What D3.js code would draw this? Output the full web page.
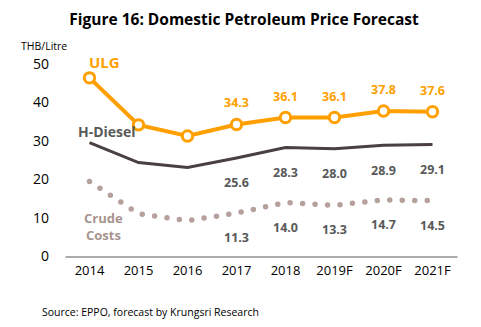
<!DOCTYPE html>
<html><head><meta charset="utf-8">
<script src="https://cdn.jsdelivr.net/npm/d3@7/dist/d3.min.js"></script>
<style>body{margin:0;background:#fff}svg{display:block}text{font-family:"Open Sans",sans-serif}</style>
</head><body>
<script>
const years = ["2014","2015","2016","2017","2018","2019F","2020F","2021F"];
const ulg = [46.4, 34.2, 31.3, 34.3, 36.1, 36.1, 37.8, 37.6];
const diesel = [29.6, 24.4, 23.1, 25.6, 28.3, 28.0, 28.9, 29.1];
const crude = [19.5, 11.1, 9.3, 11.3, 14.0, 13.3, 14.7, 14.5];
const yTicks = [0, 10, 20, 30, 40, 50];
const labelFrom = 3;

const W = 481, H = 327;
const svg = d3.select("body").append("svg").attr("width", W).attr("height", H);
const x = d3.scaleBand().domain(years).range([65, 457]);
const y = d3.scaleLinear().domain([0, 50]).range([256.5, 64]);
const cx = d => x(d) + x.bandwidth() / 2;

svg.append("text").attr("x", 244).attr("y", 25).attr("text-anchor", "middle")
  .attr("font-size", 15.5).attr("font-weight", "bold").attr("fill", "#000")
  .text("Figure 16: Domestic Petroleum Price Forecast");
svg.append("text").attr("x", 21).attr("y", 50).attr("font-size", 10.5).attr("fill", "#000").text("THB/Litre");

// y axis labels
const ya = svg.append("g").attr("transform", "translate(49,0)")
  .call(d3.axisLeft(y).tickValues(yTicks).tickSize(0).tickPadding(0));
ya.select(".domain").remove();
ya.selectAll("text").attr("font-size", 14).attr("fill", "#000").attr("font-family", "Open Sans, sans-serif");

// x axis
const xa = svg.append("g").attr("transform", "translate(0,256.5)")
  .call(d3.axisBottom(x).tickSize(0).tickPadding(9));
xa.select(".domain").attr("stroke", "#595959").attr("stroke-width", 1);
xa.selectAll("text").attr("font-size", 13).attr("fill", "#000").attr("font-family", "Open Sans, sans-serif");

const line = d3.line().x((d, i) => cx(years[i])).y(d => y(d));

// crude dotted
svg.append("path").datum(crude).attr("d", line).attr("fill", "none")
  .attr("stroke", "#B5A09C").attr("stroke-width", 5.5).attr("stroke-linecap", "round")
  .attr("stroke-dasharray", "0,12.5");
// diesel
svg.append("path").datum(diesel).attr("d", line).attr("fill", "none")
  .attr("stroke", "#4A3F41").attr("stroke-width", 3);
// ulg
svg.append("path").datum(ulg).attr("d", line).attr("fill", "none")
  .attr("stroke", "#FF9F00").attr("stroke-width", 4);
svg.selectAll("circle.ulg").data(ulg).join("circle").attr("class", "ulg")
  .attr("cx", (d, i) => cx(years[i])).attr("cy", d => y(d)).attr("r", 5.2)
  .attr("fill", "#fff").attr("stroke", "#FF9F00").attr("stroke-width", 3);

// data labels
const lab = (arr, dy, color) => svg.append("g").selectAll("text")
  .data(arr.map((v, i) => ({ v, i })).filter(d => d.i >= labelFrom)).join("text")
  .attr("x", d => cx(years[d.i])).attr("y", d => y(d.v) + dy)
  .attr("text-anchor", "middle").attr("font-size", 12.5).attr("font-weight", "bold")
  .attr("fill", color).text(d => d.v.toFixed(1));
lab(ulg, -17, "#FF9F00");
lab(diesel, 29.5, "#595959");
lab(crude, 29, "#595959");

// series names
svg.append("text").attr("x", 89).attr("y", 68).attr("font-size", 15).attr("font-weight", "bold")
  .attr("fill", "#FF9F00").text("ULG");
svg.append("text").attr("x", 78).attr("y", 137).attr("font-size", 14).attr("font-weight", "bold")
  .attr("fill", "#595959").text("H-Diesel");
svg.append("text").attr("x", 84).attr("y", 223).attr("font-size", 13).attr("font-weight", "bold")
  .attr("fill", "#A8948F").text("Crude");
svg.append("text").attr("x", 86).attr("y", 240).attr("font-size", 13).attr("font-weight", "bold")
  .attr("fill", "#A8948F").text("Costs");

svg.append("text").attr("x", 42).attr("y", 316).attr("font-size", 10.5).attr("fill", "#000")
  .text("Source: EPPO, forecast by Krungsri Research");
</script>
</body></html>
